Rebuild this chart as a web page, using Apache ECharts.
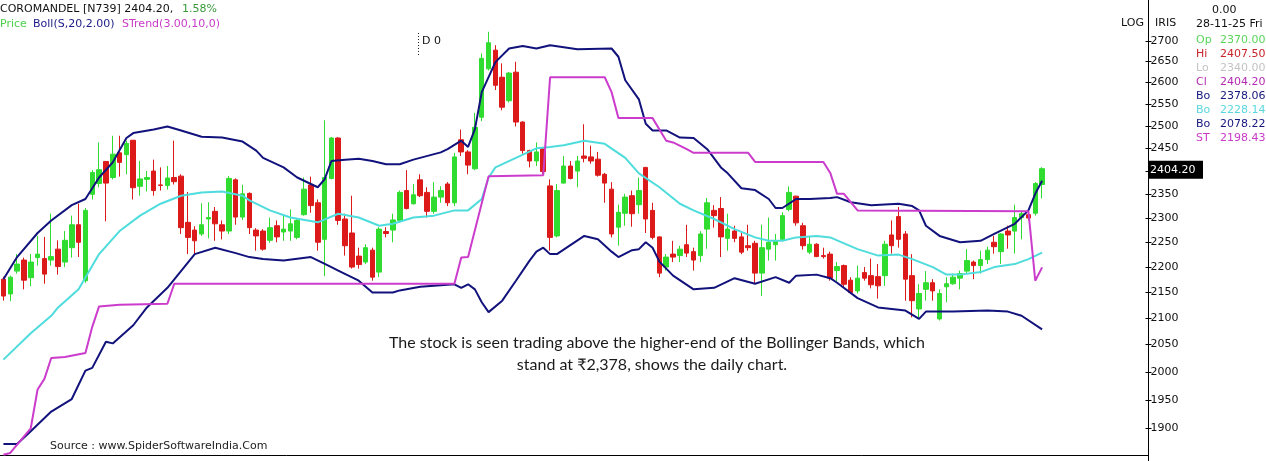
<!DOCTYPE html>
<html>
<head>
<meta charset="utf-8">
<script src="https://cdn.jsdelivr.net/npm/echarts@6/dist/echarts.min.js"></script>
<style>
html,body{margin:0;padding:0;background:#fff;}
#chart{width:1266px;height:461px;}
</style>
</head>
<body>
<div id="chart"></div>
<script>
// ---------------- DATA ----------------
const slotCount = 168; // 153 traded days + empty space on the right
const categories = Array.from({length: slotCount}, (_, i) => String(i + 1));

const opens = [2175,2146,2191,2213,2178,2218,2216,2213,2235,2209,2238,2285,2172,2349,2372,2420,2385,2439,2435,2467,
2366,2381,2399,2369,2368,2385,2388,2290,2274,2266,2297,2313,2285,2272,2380,2301,2351,2274,2272,2253,
2283,2270,2272,2259,2306,2369,2331,2255,2383,2472,2297,2268,2221,2209,2233,2189,2271,2274,2294,2357,
2329,2380,2353,2313,2343,2371,2331,2468,2441,2404,2519,2632,2677,2612,2557,2624,2508,2444,2421,2448,
2367,2262,2373,2410,2399,2432,2430,2425,2392,2360,2280,2309,2346,2327,2407,2315,2260,2199,2225,2222,
2244,2230,2222,2276,2315,2319,2257,2272,2260,2242,2247,2187,2235,2244,2255,2317,2345,2283,2229,2245,
2222,2225,2192,2202,2173,2152,2188,2182,2180,2182,2264,2302,2266,2182,2117,2155,2168,2098,2160,2166,
2177,2191,2209,2202,2214,2249,2230,2272,2272,2300,2306,2309,2370];
const closes = [2142,2179,2205,2173,2209,2225,2185,2220,2200,2253,2285,2249,2315,2396,2402,2373,2436,2418,2460,2363,
2382,2385,2357,2368,2384,2376,2279,2259,2252,2285,2300,2287,2272,2383,2301,2350,2279,2262,2235,2279,
2260,2276,2287,2294,2360,2325,2249,2385,2472,2294,2242,2199,2204,2238,2179,2276,2267,2295,2353,2319,
2348,2346,2313,2343,2357,2331,2430,2441,2412,2496,2657,2695,2593,2542,2622,2508,2444,2421,2441,2398,
2259,2357,2410,2383,2421,2427,2421,2390,2373,2266,2311,2343,2308,2357,2297,2259,2187,2219,2219,2235,
2227,2213,2266,2331,2304,2260,2276,2257,2229,2238,2187,2238,2249,2251,2304,2353,2289,2242,2245,2220,
2220,2177,2200,2165,2149,2177,2177,2164,2162,2245,2242,2255,2175,2133,2147,2168,2152,2147,2166,2179,
2186,2212,2202,2214,2233,2240,2266,2264,2300,2308,2299,2372,2404.2];
const lows = [2133,2132,2186,2155,2161,2202,2166,2202,2184,2199,2218,2219,2168,2338,2364,2292,2381,2387,2392,2338,
2346,2355,2346,2357,2359,2370,2266,2225,2225,2262,2257,2252,2255,2266,2285,2295,2266,2232,2232,2248,
2249,2252,2252,2255,2304,2310,2232,2181,2381,2285,2222,2196,2196,2205,2172,2179,2259,2249,2290,2317,
2327,2343,2300,2308,2331,2324,2324,2432,2392,2401,2510,2628,2582,2535,2553,2498,2437,2407,2410,2392,
2232,2259,2372,2381,2364,2418,2415,2387,2331,2259,2242,2283,2281,2308,2268,2255,2179,2192,2209,2209,
2219,2192,2209,2236,2279,2219,2232,2249,2225,2232,2166,2142,2212,2212,2252,2313,2283,2234,2225,2219,
2216,2172,2170,2158,2146,2147,2172,2157,2137,2162,2226,2238,2133,2101,2098,2133,2133,2095,2130,2164,
2155,2187,2175,2186,2205,2226,2205,2236,2226,2255,2294,2304,2340];
const highs = [2180,2182,2225,2218,2225,2262,2260,2308,2253,2272,2304,2329,2320,2401,2462,2421,2477,2477,2466,2467,
2421,2399,2424,2407,2410,2466,2392,2354,2282,2330,2332,2322,2294,2388,2383,2369,2353,2278,2276,2300,
2294,2304,2317,2297,2385,2387,2338,2512,2474,2474,2308,2346,2238,2245,2238,2280,2280,2308,2357,2401,
2371,2392,2364,2375,2366,2375,2439,2491,2445,2529,2669,2722,2689,2645,2624,2649,2510,2446,2462,2452,
2381,2371,2432,2421,2432,2503,2455,2441,2395,2375,2327,2350,2357,2385,2408,2331,2261,2225,2252,2242,
2285,2238,2272,2341,2326,2343,2308,2283,2268,2285,2252,2285,2300,2266,2311,2366,2346,2289,2262,2247,
2238,2230,2209,2204,2179,2202,2199,2216,2205,2252,2294,2322,2272,2225,2165,2191,2175,2155,2179,2186,
2192,2235,2212,2232,2240,2262,2268,2283,2327,2313,2309,2375,2407.5];

// Bollinger(20,2) upper / middle / lower and SuperTrend, as [day index, value]
const upperBand = [[0,2175],[2,2219],[5,2268],[7,2294],[10,2326],[12,2339],[14,2385],[16,2418],[18,2472],[19,2483],
[22,2491],[24,2498],[26,2489],[29,2475],[32,2473],[35,2464],[37,2444],[38,2428],[41,2407],[43,2385],[46,2364],
[47,2381],[48,2421],[50,2424],[52,2426],[54,2421],[56,2414],[58,2414],[60,2424],[64,2440],[65,2447],[67,2466],
[68,2452],[69,2492],[70,2577],[72,2648],[74,2681],[76,2687],[78,2681],[80,2689],[84,2679],[89,2681],[90,2661],
[91,2605],[93,2560],[94,2504],[95,2489],[97,2489],[99,2473],[101,2472],[103,2447],[105,2407],[106,2394],[108,2362],
[110,2358],[112,2339],[113,2320],[114,2320],[116,2339],[118,2339],[121,2341],[122,2343],[124,2332],[127,2326],
[131,2329],[133,2324],[134,2315],[135,2283],[137,2262],[140,2249],[143,2252],[145,2266],[148,2287],[150,2315],
[151,2350],[152,2378.06]];
const middleBand = [[0,2022],[4,2071],[7,2104],[8,2120],[11,2155],[14,2225],[17,2272],[20,2304],[23,2329],[26,2346],
[29,2353],[32,2355],[35,2346],[36,2336],[39,2315],[42,2300],[46,2290],[49,2308],[52,2300],[55,2283],[57,2287],
[60,2300],[63,2304],[66,2315],[68,2315],[70,2339],[71,2385],[72,2407],[75,2428],[78,2449],[80,2452],[82,2456],
[85,2466],[88,2459],[91,2428],[93,2394],[96,2364],[99,2329],[101,2315],[104,2297],[107,2276],[110,2259],[112,2252],
[114,2252],[116,2259],[119,2262],[121,2259],[122,2253],[125,2235],[128,2222],[131,2224],[133,2215],[136,2199],
[138,2184],[140,2184],[143,2189],[145,2199],[148,2205],[150,2215],[152,2228.14]];
const lowerBand = [[0,1873],[2,1873],[4,1895],[7,1929],[10,1951],[12,2002],[13,2007],[15,2055],[16,2052],[19,2086],
[21,2120],[24,2158],[28,2225],[31,2238],[34,2227],[36,2219],[38,2215],[41,2212],[45,2219],[48,2199],[49,2192],
[52,2172],[54,2149],[57,2149],[58,2153],[61,2160],[66,2165],[67,2158],[68,2165],[69,2155],[70,2130],[71,2111],
[73,2133],[75,2172],[77,2212],[78,2230],[79,2238],[80,2225],[81,2225],[85,2262],[87,2255],[89,2230],[90,2219],
[92,2233],[93,2235],[94,2249],[95,2238],[96,2210],[98,2182],[101,2155],[104,2158],[107,2177],[110,2166],[113,2179],
[115,2168],[116,2182],[119,2184],[121,2177],[122,2168],[125,2138],[128,2120],[132,2114],[134,2098],[135,2112],
[139,2112],[144,2114],[147,2112],[149,2104],[152,2078.22]];
const superTrend = [[0,1855],[1,1858],[4,1900],[5,1968],[6,1987],[7,2025],[9,2027],[12,2034],[13,2083],[14,2122],
[17,2125],[24,2127],[25,2166],[66,2166],[67,2218],[68,2219],[71,2388],[79,2390],[80,2612],[88,2612],[89,2577],
[90,2517],[95,2517],[97,2466],[98,2462],[100,2447],[101,2439],[109,2439],[110,2419],[120,2419],[121,2395],
[122,2350],[123,2350],[125,2315],[150,2313],[151,2172],[152,2198.43]];

const yTicks = [1900,1950,2000,2050,2100,2150,2200,2250,2300,2350,2400,2450,2500,2550,2600,2650,2700];
const lastPrice = 2404.20;

const infoRows = [
  ['Op','2370.00','#5ad65a'],
  ['Hi','2407.50','#c8242a'],
  ['Lo','2340.00','#c4c4c4'],
  ['Cl','2404.20','#b42cb4'],
  ['Bo','2378.06','#16167e'],
  ['Bo','2228.14','#5ad8dc'],
  ['Bo','2078.22','#16167e'],
  ['ST','2198.43','#c83cc8']
];

// ---------------- CHART ----------------
const FONT = '11px "DejaVu Sans", sans-serif';
const candleData = opens.map((o, i) => [o, closes[i], lows[i], highs[i]]);

const chart = echarts.init(document.getElementById('chart'), null, {renderer: 'canvas'});

const graphics = [];
function txt(x, y, text, color, font, align) {
  graphics.push({type: 'text', x: x, y: y, silent: true,
    style: {text: text, fill: color, font: font || FONT, align: align || 'left', verticalAlign: 'middle'}});
}
// header
txt(0, 9, 'COROMANDEL [N739] 2404.20,', '#111');
txt(182, 9, '1.58%', '#3a9a3a');
txt(0, 24, 'Price', '#4cd04c');
txt(33, 24, 'Boll(S,20,2.00)', '#1a1a86');
txt(122, 24, 'STrend(3.00,10,0)', '#c83cc8');
// right panel
txt(1121, 23, 'LOG', '#111');
txt(1155, 23, 'IRIS', '#111');
txt(1212, 10, '0.00', '#111');
txt(1196, 24, '28-11-25 Fri', '#111');
infoRows.forEach((r, i) => {
  txt(1196, 40.5 + i * 13.9, r[0], r[2]);
  txt(1220, 40.5 + i * 13.9, r[1], r[2]);
});
// D 0 marker
graphics.push({type: 'line', silent: true, shape: {x1: 418.5, y1: 33, x2: 418.5, y2: 55},
  style: {stroke: '#222', lineWidth: 1, lineDash: [1, 2]}});
txt(422, 41, 'D 0', '#111');
// annotation
txt(657, 343, 'The stock is seen trading above the higher-end of the Bollinger Bands, which', '#1a1a1a', '16px Lato, sans-serif', 'center');
txt(652, 365, 'stand at \u20B92,378, shows the daily chart.', '#1a1a1a', '16px Lato, sans-serif', 'center');
// source
txt(50, 446, 'Source : www.SpiderSoftwareIndia.Com', '#222');
// axis line continuation below plot
graphics.push({type: 'line', silent: true, shape: {x1: 1148.5, y1: 455, x2: 1148.5, y2: 461},
  style: {stroke: '#000', lineWidth: 1}});

const option = {
  animation: false,
  backgroundColor: '#ffffff',
  grid: {left: 0, right: 118, top: 0, bottom: 6, containLabel: false},
  xAxis: {
    type: 'category', data: categories, boundaryGap: true,
    axisLine: {show: true, lineStyle: {color: '#000', width: 1}},
    axisTick: {show: false}, axisLabel: {show: false}, splitLine: {show: false}
  },
  yAxis: {
    type: 'log', logBase: 10, position: 'right',
    min: 1854.5, max: 2801.5, scale: true,
    axisLine: {show: true, lineStyle: {color: '#000', width: 1}},
    axisTick: {show: false}, axisLabel: {show: false}, splitLine: {show: false}
  },
  graphic: graphics,
  series: [
    {
      type: 'candlestick', data: candleData, barWidth: 5, z: 2,
      itemStyle: {color: '#2fdc2f', color0: '#dc1a1a', borderColor: '#2fdc2f', borderColor0: '#dc1a1a', borderWidth: 1}
    },
    {type: 'line', data: upperBand, showSymbol: false, symbol: 'none', z: 3,
      lineStyle: {color: '#12127c', width: 2}},
    {type: 'line', data: middleBand, showSymbol: false, symbol: 'none', z: 3,
      lineStyle: {color: '#4fdcdc', width: 2}},
    {type: 'line', data: lowerBand, showSymbol: false, symbol: 'none', z: 3,
      lineStyle: {color: '#12127c', width: 2}},
    {type: 'line', data: superTrend, showSymbol: false, symbol: 'none', z: 3,
      lineStyle: {color: '#cc3ccc', width: 2}},
    {
      type: 'custom', z: 5, silent: true, clip: false,
      data: yTicks.map(v => [0, v]),
      renderItem: function (params, api) {
        const cs = params.coordSys;
        const y = Math.round(api.coord([0, api.value(1)])[1]) + 0.5;
        const x = cs.x + cs.width + 0.5;
        return {type: 'group', children: [
          {type: 'line', shape: {x1: x - 3, y1: y, x2: x + 3, y2: y}, style: {stroke: '#000', lineWidth: 1}},
          {type: 'text', style: {text: String(api.value(1)), x: x + 2, y: y, verticalAlign: 'middle',
            align: 'left', font: FONT, fill: '#111'}}
        ]};
      }
    },
    {
      type: 'custom', z: 6, silent: true, clip: false,
      data: [[opens.length - 1, lastPrice]],
      renderItem: function (params, api) {
        const cs = params.coordSys;
        const y = api.coord([api.value(0), api.value(1)])[1];
        const x = cs.x + cs.width + 1;
        return {type: 'group', children: [
          {type: 'rect', shape: {x: x, y: y - 8, width: 54, height: 18}, style: {fill: '#000'}},
          {type: 'text', style: {text: lastPrice.toFixed(2), x: x + 1, y: y + 1, verticalAlign: 'middle',
            align: 'left', font: FONT, fill: '#fff'}}
        ]};
      }
    }
  ]
};
chart.setOption(option);
</script>
</body>
</html>
